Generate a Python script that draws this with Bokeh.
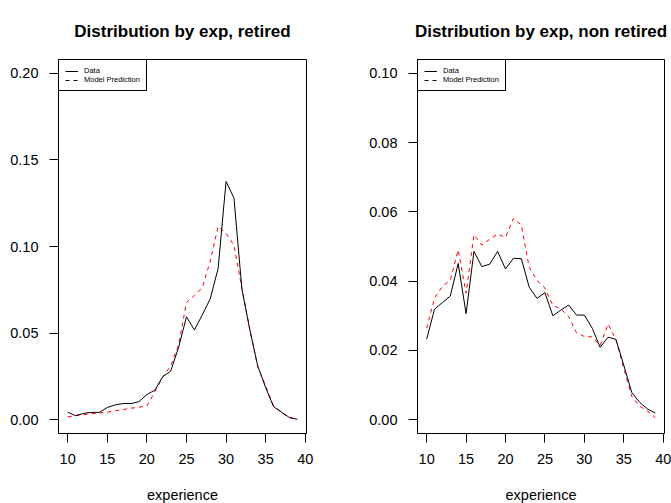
from bokeh.plotting import figure
from bokeh.models import Range1d, FixedTicker, Legend, LegendItem, NumeralTickFormatter, ColumnDataSource
from bokeh.layouts import row
from bokeh.embed import file_html
from bokeh.resources import INLINE

# ---- data ----
experience = list(range(10, 40))

data_retired = [0.0043, 0.0023, 0.0036, 0.0042, 0.0042, 0.0070, 0.0085, 0.0093, 0.0093, 0.0104,
                0.0145, 0.0170, 0.0248, 0.0280, 0.0416, 0.0594, 0.0518, 0.0605, 0.0698, 0.0873,
                0.1376, 0.1280, 0.0755, 0.0520, 0.0310, 0.0185, 0.0075, 0.0044, 0.0012, 0.0002]
model_retired = [0.0016, 0.0023, 0.0029, 0.0034, 0.0038, 0.0043, 0.0051, 0.0058, 0.0066, 0.0072,
                 0.0078, 0.0160, 0.0245, 0.0310, 0.0430, 0.0676, 0.0717, 0.0763, 0.0915, 0.1116,
                 0.1075, 0.1008, 0.0758, 0.0522, 0.0305, 0.0195, 0.0079, 0.0040, 0.0012, 0.0002]

data_non = [0.0232, 0.0319, 0.0338, 0.0357, 0.0451, 0.0306, 0.0486, 0.0442, 0.0449, 0.0486,
            0.0435, 0.0466, 0.0465, 0.0383, 0.0350, 0.0367, 0.0300, 0.0316, 0.0331, 0.0302,
            0.0302, 0.0264, 0.0209, 0.0238, 0.0232, 0.0157, 0.0079, 0.0050, 0.0031, 0.0019]
model_non = [0.0264, 0.0351, 0.0385, 0.0403, 0.0490, 0.0365, 0.0534, 0.0504, 0.0521, 0.0536,
             0.0526, 0.0581, 0.0562, 0.0440, 0.0402, 0.0380, 0.0330, 0.0320, 0.0298, 0.0251,
             0.0240, 0.0239, 0.0214, 0.0276, 0.0231, 0.0148, 0.0068, 0.0039, 0.0025, 0.0006]

x_ticks = [10, 15, 20, 25, 30, 35, 40]
y_ticks_retired = [0.00, 0.05, 0.10, 0.15, 0.20]
y_ticks_non = [0.00, 0.02, 0.04, 0.06, 0.08, 0.10]

FONT = "Liberation Sans"


def make_panel(title, data, model, yticks, width, frame_width, border_left, border_right):
    ymax = yticks[-1]
    pad_y = ymax * 0.04
    p = figure(width=width, height=503, frame_width=frame_width, frame_height=374,
               output_backend="svg", toolbar_location=None,
               x_range=Range1d(8.84, 40.16), y_range=Range1d(-pad_y, ymax + pad_y),
               min_border_left=border_left, min_border_right=border_right,
               min_border_top=58, min_border_bottom=10)
    p.title.text = title
    p.title.text_font = FONT
    p.title.text_font_size = "17px"
    p.title.text_font_style = "bold"
    p.title.text_color = "black"
    p.title.align = "center"
    p.title.standoff = 38
    p.xgrid.visible = False
    p.ygrid.visible = False
    p.outline_line_color = "black"
    p.outline_line_width = 1
    p.outline_line_alpha = 1
    p.background_fill_color = "white"
    p.border_fill_color = "white"

    for ax in (p.xaxis[0], p.yaxis[0]):
        ax.axis_line_color = None
        ax.major_tick_in = 0
        ax.major_tick_out = 9
        ax.major_tick_line_color = "black"
        ax.minor_tick_line_color = None
        ax.major_label_text_font = FONT
        ax.major_label_text_font_size = "14.5px"
        ax.major_label_text_color = "black"
        ax.major_label_standoff = 11
    p.xaxis.ticker = FixedTicker(ticks=x_ticks)
    p.yaxis.ticker = FixedTicker(ticks=yticks)
    p.yaxis.formatter = NumeralTickFormatter(format="0.00")
    p.xaxis.axis_label = "experience"
    p.xaxis.axis_label_text_font = FONT
    p.xaxis.axis_label_text_font_size = "14.5px"
    p.xaxis.axis_label_text_font_style = "normal"
    p.xaxis.axis_label_text_color = "black"
    p.xaxis.axis_label_standoff = 20

    src = ColumnDataSource(dict(x=experience, data=data, model=model))
    p.line("x", "model", source=src, line_color="red", line_width=1, line_dash="4 4")
    p.line("x", "data", source=src, line_color="black", line_width=1)

    # legend key entries (black, as in the original legend); NaN point draws nothing
    key_src = ColumnDataSource(dict(x=[float("nan")], y=[float("nan")]))
    k1 = p.line("x", "y", source=key_src, line_color="black", line_width=1)
    k2 = p.line("x", "y", source=key_src, line_color="black", line_width=1, line_dash="4 4")
    legend = Legend(items=[LegendItem(label="Data", renderers=[k1]),
                           LegendItem(label="Model Prediction", renderers=[k2])],
                    location="top_left", margin=0, padding=6, spacing=0,
                    glyph_width=13, glyph_height=8, label_height=8, label_standoff=6,
                    label_text_font=FONT, label_text_font_size="7.5px",
                    label_text_color="black",
                    border_line_color="black", border_line_width=1, border_line_alpha=1,
                    background_fill_color="white", background_fill_alpha=1)
    p.add_layout(legend)
    return p


p1 = make_panel("Distribution by exp, retired", data_retired, model_retired, y_ticks_retired,
                344, 248, 58, 38)
p2 = make_panel("Distribution by exp, non retired", data_non, model_non, y_ticks_non,
                327, 247, 73, 7)

layout = row(p1, p2)
open("out.html", "w").write(file_html(layout, INLINE))
